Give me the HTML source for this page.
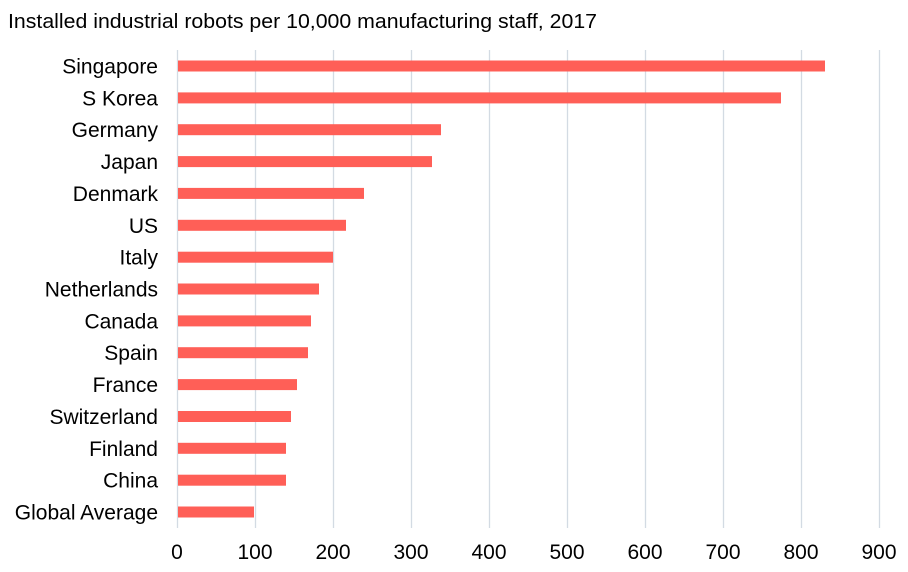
<!DOCTYPE html>
<html><head><style>
body{margin:0;width:908px;height:567px;background:#fff;font-family:"Liberation Sans",Arial,sans-serif;overflow:hidden}
</style></head><body>
<svg width="908" height="567" xmlns="http://www.w3.org/2000/svg" font-family="Liberation Sans, Arial, sans-serif">
<text x="8" y="28" font-size="20" fill="#000" textLength="589" lengthAdjust="spacingAndGlyphs">Installed industrial robots per 10,000 manufacturing  staff, 2017</text>
<g stroke="#d3dbe3" stroke-width="1.3">
<line x1="177.5" y1="50" x2="177.5" y2="528"/><line x1="255.5" y1="50" x2="255.5" y2="528"/><line x1="333.5" y1="50" x2="333.5" y2="528"/><line x1="411.5" y1="50" x2="411.5" y2="528"/><line x1="489.5" y1="50" x2="489.5" y2="528"/><line x1="567.5" y1="50" x2="567.5" y2="528"/><line x1="645.5" y1="50" x2="645.5" y2="528"/><line x1="723.5" y1="50" x2="723.5" y2="528"/><line x1="801.5" y1="50" x2="801.5" y2="528"/><line x1="879.5" y1="50" x2="879.5" y2="528"/>
</g>
<g fill="#ff5f57">
<rect x="178" y="60.5" width="647" height="11"/>
<rect x="178" y="92.4" width="603" height="11"/>
<rect x="178" y="124.2" width="263" height="11"/>
<rect x="178" y="156.1" width="254" height="11"/>
<rect x="178" y="187.9" width="186" height="11"/>
<rect x="178" y="219.8" width="168" height="11"/>
<rect x="178" y="251.7" width="155" height="11"/>
<rect x="178" y="283.5" width="141" height="11"/>
<rect x="178" y="315.4" width="133" height="11"/>
<rect x="178" y="347.2" width="130" height="11"/>
<rect x="178" y="379.1" width="119" height="11"/>
<rect x="178" y="411" width="113" height="11"/>
<rect x="178" y="442.8" width="108" height="11"/>
<rect x="178" y="474.7" width="108" height="11"/>
<rect x="178" y="506.5" width="76" height="11"/>
</g>
<g font-size="21" fill="#000" text-anchor="end">
<text x="158" y="73.5">Singapore</text>
<text x="158" y="105.4">S Korea</text>
<text x="158" y="137.2">Germany</text>
<text x="158" y="169.1">Japan</text>
<text x="158" y="200.9">Denmark</text>
<text x="158" y="232.8">US</text>
<text x="158" y="264.7">Italy</text>
<text x="158" y="296.5">Netherlands</text>
<text x="158" y="328.4">Canada</text>
<text x="158" y="360.2">Spain</text>
<text x="158" y="392.1">France</text>
<text x="158" y="424">Switzerland</text>
<text x="158" y="455.8">Finland</text>
<text x="158" y="487.7">China</text>
<text x="158" y="519.5">Global Average</text>
</g>
<g font-size="21" fill="#000" text-anchor="middle">
<text x="177" y="559">0</text><text x="255" y="559">100</text><text x="333" y="559">200</text><text x="411" y="559">300</text><text x="489" y="559">400</text><text x="567" y="559">500</text><text x="645" y="559">600</text><text x="723" y="559">700</text><text x="801" y="559">800</text><text x="879" y="559">900</text>
</g>
</svg>
</body></html>
